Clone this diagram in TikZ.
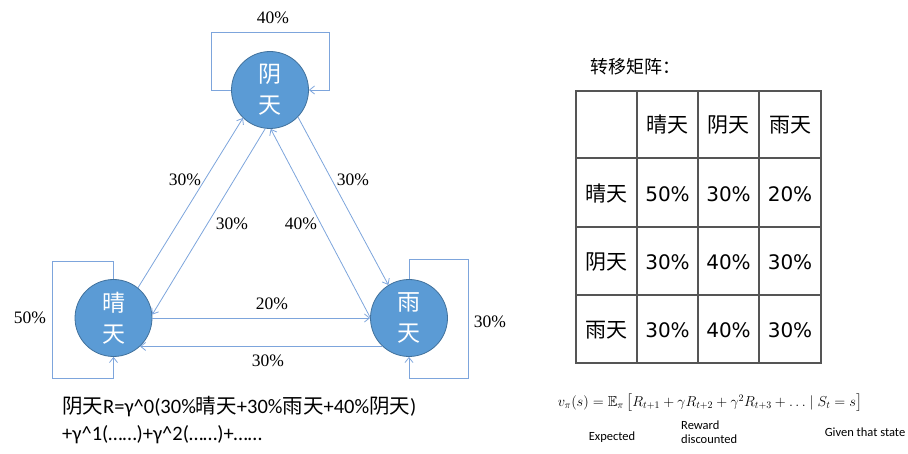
\documentclass[tikz,border=0pt]{standalone}
\usepackage{amsmath,amssymb}
\usepackage{fontspec}
\usetikzlibrary{arrows.meta}
\newfontfamily\cjk{Noto Sans CJK SC}
\newfontfamily\carl{Carlito}
\newfontfamily\dejav{DejaVu Sans}
\newfontfamily\tms{Liberation Serif}
\newcommand{\zh}[1]{{\cjk #1}}
\definecolor{nodeblue}{RGB}{91,155,213}
\definecolor{nodeborder}{RGB}{65,113,156}
\definecolor{edgeblue}{RGB}{125,165,220}
\definecolor{gridgray}{RGB}{85,85,85}
\begin{document}
\begin{tikzpicture}[x=1pt,y=-1pt,
  state/.style={circle,fill=nodeblue,draw=nodeborder,line width=0.8pt,minimum size=77pt,inner sep=0pt,text=white,font=\cjk\fontsize{23}{31}\selectfont,align=center},
  edge/.style={draw=edgeblue,line width=0.8pt,-{Straight Barb[length=5pt,width=8pt]}},
  plab/.style={font=\tms\fontsize{17.5}{20}\selectfont,inner sep=0pt},
  cellzh/.style={font=\cjk\fontsize{21}{24}\selectfont,inner sep=0pt},
  cellnum/.style={font=\dejav\fontsize{20}{24}\selectfont,inner sep=0pt},
  small/.style={font=\carl\fontsize{12.5}{14}\selectfont,inner sep=0pt,align=left},
  grid/.style={draw=gridgray,line width=1.2pt}]
\path[use as bounding box] (0,0) rectangle (908,454);

% states
\node[state] (yin) at (270,90) {阴\\天};
\node[state] (qing) at (113.5,318) {晴\\天};
\node[state] (yu) at (409,318) {雨\\天};

% self loops
\draw[edge] (yin.west) -| (211,32) -| (329,90) -- (yin.east);
\draw[edge] (qing.north) |- (52,261) |- (113.5,378) -- (qing.south);
\draw[edge] (yu.north) |- (468,259) |- (409,378) -- (yu.south);
\node[plab] (l40top) at (273,18) {40\%};
\node[plab] (l50) at (30,318) {50\%};
\node[plab] (l30r) at (490,322) {30\%};

% transitions
\draw[edge] (qing.51) -- (yin.226);
\draw[edge] (yin.263) -- (qing.5);
\draw[edge] (yu.179) -- (yin.271);
\draw[edge] (yin.316) -- (yu.122);
\draw[edge] (qing.east) -- (yu.west);
\draw[edge] (yu.227) -- (qing.313);
\node[plab] (l30a) at (185,180) {30\%};
\node[plab] (l30b) at (232,224) {30\%};
\node[plab] (l40b) at (301,224) {40\%};
\node[plab] (l30c) at (353,180) {30\%};
\node[plab] (l20) at (272,304) {20\%};
\node[plab] (l30d) at (268,361) {30\%};

% bottom text
\node[anchor=west,inner sep=0pt,font=\carl\fontsize{20.5}{24}\selectfont] (eq1) at (62,407)
  {\zh{阴天}R=γ\^{}0(30\%\zh{晴天}+30\%\zh{雨天}+40\%\zh{阴天})};
\node[anchor=west,inner sep=0pt,font=\carl\fontsize{20.5}{24}\selectfont] (eq2) at (62,435)
  {+γ\^{}1(……)+γ\^{}2(……)+……};

% matrix title
\node[anchor=west,inner sep=0pt,font=\cjk\fontsize{18}{20}\selectfont] (title) at (590,67) {转移矩阵：};

% table grid
\draw[grid] (576,91) rectangle (821,363);
\foreach \xx in {637,698,759} \draw[grid] (\xx,91) -- (\xx,363);
\foreach \yy in {158,227,295} \draw[grid] (576,\yy) -- (821,\yy);

% table header
\node[cellzh] (h1) at (667.5,125) {晴天};
\node[cellzh] (h2) at (728.5,125) {阴天};
\node[cellzh] (h3) at (790,125) {雨天};
\node[cellzh] (r1) at (606.5,194) {晴天};
\node[cellzh] (r2) at (606.5,262) {阴天};
\node[cellzh] (r3) at (606.5,330) {雨天};
\node[cellnum] (c11) at (667.5,194) {50\%};
\node[cellnum] (c12) at (728.5,194) {30\%};
\node[cellnum] (c13) at (790,194) {20\%};
\node[cellnum] (c21) at (667.5,262) {30\%};
\node[cellnum] (c22) at (728.5,262) {40\%};
\node[cellnum] (c23) at (790,262) {30\%};
\node[cellnum] (c31) at (667.5,330) {30\%};
\node[cellnum] (c32) at (728.5,330) {40\%};
\node[cellnum] (c33) at (790,330) {30\%};

% value function
\node[inner sep=0pt,font=\fontsize{14.5}{16}\selectfont] (vf) at (710,403)
  {$v_\pi(s)=\mathbb{E}_\pi\left[R_{t+1}+\gamma R_{t+2}+\gamma^2R_{t+3}+\ldots\mid S_t=s\right]$};
\node[small] (exp) at (612,437) {Expected};
\node[small,anchor=west] (rew) at (681,432) {Reward\\discounted};
\node[small] (giv) at (865,432) {Given that state};
\end{tikzpicture}
\end{document}
